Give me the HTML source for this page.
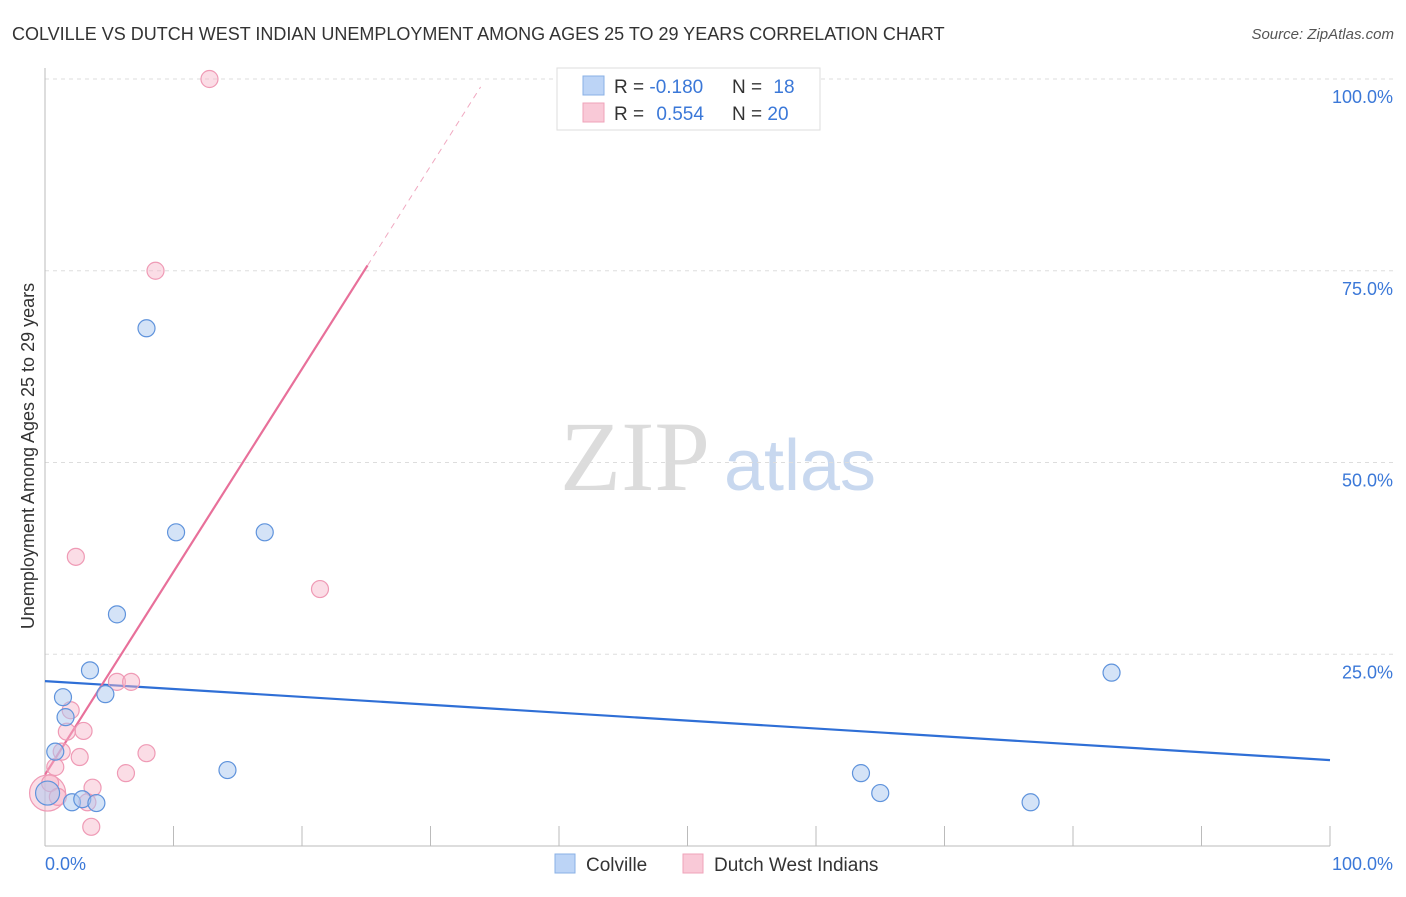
<!DOCTYPE html>
<html><head><meta charset="utf-8"><style>
body{margin:0;background:#fff;font-family:"Liberation Sans",sans-serif;}
svg text{font-family:"Liberation Sans",sans-serif;}
</style></head><body>
<svg width="1406" height="892" viewBox="0 0 1406 892">
<text x="12" y="40" font-size="18" fill="#333">COLVILLE VS DUTCH WEST INDIAN UNEMPLOYMENT AMONG AGES 25 TO 29 YEARS CORRELATION CHART</text>
<text x="1394" y="39" font-size="15" fill="#555" font-style="italic" text-anchor="end">Source: ZipAtlas.com</text>
<g>
<text x="635" y="490" font-size="100" fill="#dcdcdc" text-anchor="middle" font-family="Liberation Serif,serif" style="font-family:'Liberation Serif',serif">ZIP</text>
<text x="800" y="490" font-size="72" fill="#c8d8ef" text-anchor="middle">atlas</text>
</g>
<g id="grid"></g>
<line x1="45" y1="68" x2="45" y2="846" stroke="#bbb"/>
<line x1="45" y1="846" x2="1330" y2="846" stroke="#bbb"/>
<g id="ticks"></g>
<g id="trend"></g>
<g id="pts"></g>
<text transform="translate(34,456) rotate(-90)" font-size="18" fill="#333" text-anchor="middle">Unemployment Among Ages 25 to 29 years</text>
<text x="45" y="870" font-size="18" fill="#3b78d8">0.0%</text>
<text x="1393" y="870" font-size="18" fill="#3b78d8" text-anchor="end">100.0%</text>
<g>
<rect x="557" y="68" width="263" height="62" fill="#fff" stroke="#ddd"/>
<rect x="583" y="76" width="21" height="19" fill="#bcd4f6" stroke="#8ab0e6"/>
<rect x="583" y="103" width="21" height="19" fill="#f9c9d7" stroke="#efa3ba"/>
<text x="614" y="93" font-size="19" fill="#333">R = <tspan fill="#3b78d8">-0.180</tspan></text>
<text x="732" y="93" font-size="19" fill="#333">N = <tspan fill="#3b78d8" dx="6">18</tspan></text>
<text x="614" y="120" font-size="19" fill="#333">R = <tspan fill="#3b78d8" dx="7">0.554</tspan></text>
<text x="732" y="120" font-size="19" fill="#333">N = <tspan fill="#3b78d8">20</tspan></text>
</g>
<g>
<rect x="555" y="854" width="20" height="19" fill="#bcd4f6" stroke="#8ab0e6"/>
<text x="586" y="871" font-size="19" fill="#333">Colville</text>
<rect x="683" y="854" width="20" height="19" fill="#f9c9d7" stroke="#efa3ba"/>
<text x="714" y="871" font-size="19" fill="#333">Dutch West Indians</text>
</g>
</svg>
<script>
const yTicks=[25,50,75,100];
const yTickLabels=["25.0%","50.0%","75.0%","100.0%"];
const xTicks=[0,10,20,30,40,50,60,70,80,90,100];
const colvilleX=[7.9,10.2,17.1,5.6,3.5,1.4,4.7,1.6,0.8,0.2,2.1,2.9,4.0,14.2,63.5,65.0,76.7,83.0];
const colvilleY=[67.5,40.9,40.9,30.2,22.9,19.4,19.8,16.8,12.3,6.9,5.7,6.1,5.6,9.9,9.5,6.9,5.7,22.6];
const dutchX=[12.8,8.6,2.4,21.4,5.6,6.7,2.0,3.0,1.7,1.3,2.7,7.9,0.8,6.3,3.7,3.3,3.6,0.2,0.4,1.0];
const dutchY=[100,75.0,37.7,33.5,21.4,21.4,17.7,15.0,14.9,12.3,11.6,12.1,10.3,9.5,7.6,5.7,2.5,6.9,8.2,6.4];
const colvilleTrend=[21.5,11.2];
const dutchTrend=[9.3,2.645];
const NS="http://www.w3.org/2000/svg";
const sx=v=>45+v*12.85, sy=v=>846-v*7.67;
function mk(tag,attrs,parent){const e=document.createElementNS(NS,tag);for(const k in attrs)e.setAttribute(k,attrs[k]);parent.appendChild(e);return e;}
const grid=document.getElementById('grid');
yTicks.forEach((t,i)=>{
 const l=mk('line',{x1:45,x2:1395,y1:sy(t),y2:sy(t),stroke:'#ddd','stroke-dasharray':'4,4'},grid);
 
 
 const tx=mk('text',{x:1393,y:sy(t)+24,'font-size':18,fill:'#3b78d8','text-anchor':'end'},grid);
 tx.textContent=yTickLabels[i];
 
 
});
const ticks=document.getElementById('ticks');
xTicks.forEach(t=>{
 const l=mk('line',{x1:sx(t),x2:sx(t),y1:826,y2:846,stroke:'#bbb'},ticks);
 
 
});
const tr=document.getElementById('trend');
let l=mk('line',{x1:sx(0),y1:sy(colvilleTrend[0]),x2:sx(100),y2:sy(colvilleTrend[1]),stroke:'#2f6fd6','stroke-width':2.2},tr);


const pyAt=x=>dutchTrend[0]+dutchTrend[1]*x;
l=mk('line',{x1:sx(0),y1:sy(pyAt(0)),x2:sx(25.1),y2:sy(pyAt(25.1)),stroke:'#e8709a','stroke-width':2.2},tr);


l=mk('line',{x1:sx(25.1),y1:sy(pyAt(25.1)),x2:sx(33.9),y2:sy(pyAt(33.9)),stroke:'#f0a8c0','stroke-width':1,'stroke-dasharray':'6,5'},tr);


const pts=document.getElementById('pts');
dutchX.forEach((x,i)=>{
 const r=(i===17)?18:8.5;
 const c=mk('circle',{cx:sx(x),cy:sy(dutchY[i]),r:r,fill:'rgba(246,180,200,0.45)',stroke:'#ef9ab5','stroke-width':1.2},pts);
 
 
});
colvilleX.forEach((x,i)=>{
 const r=(i===9)?12:8.5;
 const c=mk('circle',{cx:sx(x),cy:sy(colvilleY[i]),r:r,fill:'rgba(170,200,240,0.5)',stroke:'#5f93dc','stroke-width':1.2},pts);
 
 
});
</script>
</body></html>
